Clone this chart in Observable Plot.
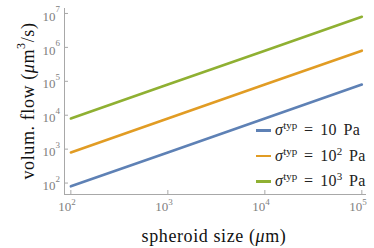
<!DOCTYPE html>
<html><head><meta charset="utf-8">
<script src="https://cdn.jsdelivr.net/npm/d3@7"></script>
<script src="https://cdn.jsdelivr.net/npm/@observablehq/plot@0.6"></script>
<style>
body{margin:0;background:#fff;}
#c{position:relative;width:374px;height:248px;font-family:"Liberation Serif",serif;}
#legend{position:absolute;left:256px;top:117px;font-size:16px;color:#222;letter-spacing:0.3px;word-spacing:2.5px;}
#legend .row{height:25.5px;line-height:25.5px;white-space:nowrap;}
#legend .sw{display:inline-block;width:15px;height:2.6px;vertical-align:middle;margin-right:4px;position:relative;top:-1px;}
#legend sup{font-size:11px;vertical-align:0;position:relative;top:-6px;letter-spacing:0;}
</style></head><body><div id="c"></div>
<script>
const sizes = [100, 1000, 10000, 100000];
const flow10 = [80, 800, 8000, 80000];
const flow100 = [800, 8000, 80000, 800000];
const flow1000 = [8000, 80000, 800000, 8000000];
const seriesNames = ["10 Pa", "10^2 Pa", "10^3 Pa"];
const legendBase = ["10", "10", "10"];
const legendExp = ["", "2", "3"];
const colors = ["#5E81B5", "#E19C24", "#8FB032"];
const xTicks = [100, 1000, 10000, 100000];
const xTickExp = ["2", "3", "4", "5"];
const yTicks = [1e2, 1e3, 1e4, 1e5, 1e6, 1e7];
const yTickExp = ["2", "3", "4", "5", "6", "7"];

const xDomain = [86, 111700];
const yDomain = [46, 14000000];

const data = [];
[flow10, flow100, flow1000].forEach((arr, i) =>
  arr.forEach((v, j) => data.push({s: seriesNames[i], x: sizes[j], y: v})));

const axisGray = "#a8a8a8";
const labelGray = "#808080";

const chart = Plot.plot({
  width: 374, height: 248,
  marginLeft: 64, marginRight: 8, marginTop: 8, marginBottom: 54,
  style: {fontFamily: "Liberation Serif, serif", background: "transparent"},
  x: {type: "log", domain: xDomain, axis: null},
  y: {type: "log", domain: yDomain, axis: null},
  color: {domain: seriesNames, range: colors},
  marks: [
    Plot.ruleY([yDomain[0]], {stroke: axisGray, strokeWidth: 1}),
    Plot.ruleX([xDomain[0]], {stroke: axisGray, strokeWidth: 1}),
    Plot.axisY({ticks: yTicks, tickSize: 4, dx: 4, tickFormat: () => "", stroke: axisGray, label: null}),
    Plot.axisX({ticks: xTicks, tickSize: 4, dy: -4, tickFormat: () => "", stroke: axisGray, label: null}),
    Plot.text(yTicks, {y: d => d, frameAnchor: "left", text: () => "10", textAnchor: "end",
      dx: -9, dy: 3, fontSize: 13, fill: labelGray}),
    Plot.text(yTicks, {y: d => d, frameAnchor: "left", text: (d, i) => yTickExp[i], textAnchor: "start",
      dx: -9, dy: -4, fontSize: 9, fill: labelGray}),
    Plot.text(xTicks, {x: d => d, frameAnchor: "bottom", text: () => "10", textAnchor: "end",
      dx: 0.5, dy: 16, fontSize: 13, fill: labelGray}),
    Plot.text(xTicks, {x: d => d, frameAnchor: "bottom", text: (d, i) => xTickExp[i], textAnchor: "start",
      dx: 0.5, dy: 10, fontSize: 9, fill: labelGray}),
    Plot.line(data, {x: "x", y: "y", z: "s", stroke: "s", strokeWidth: 2.6})
  ]
});

const c = document.getElementById("c");
c.appendChild(chart);

const svg = d3.select(chart);
// y title
const yt = svg.append("text")
  .attr("transform", "translate(28,101) rotate(-90)")
  .attr("text-anchor", "middle")
  .attr("dominant-baseline", "central")
  .attr("font-size", 18).attr("fill", "#111")
  .attr("letter-spacing", 0.6)
  .attr("font-family", "Liberation Serif, serif");
yt.append("tspan").text("volum. flow (");
yt.append("tspan").attr("font-style", "italic").text("μ");
yt.append("tspan").text("m");
yt.append("tspan").attr("font-size", 12).attr("dy", -7).text("3");
yt.append("tspan").attr("dy", 7).text("/s)");
// x title
const xt = svg.append("text")
  .attr("x", 214).attr("y", 242)
  .attr("text-anchor", "middle")
  .attr("font-size", 18).attr("fill", "#111")
  .attr("letter-spacing", 0.6)
  .attr("font-family", "Liberation Serif, serif");
xt.append("tspan").text("spheroid size (");
xt.append("tspan").attr("font-style", "italic").text("μ");
xt.append("tspan").text("m)");

// legend
const lg = document.createElement("div");
lg.id = "legend";
seriesNames.forEach((s, i) => {
  const r = document.createElement("div");
  r.className = "row";
  r.innerHTML = `<span class="sw" style="background:${colors[i]}"></span><i>σ</i><sup>typ</sup> = ${legendBase[i]}${legendExp[i] ? `<sup>${legendExp[i]}</sup>` : ""} Pa`;
  lg.appendChild(r);
});
c.appendChild(lg);
</script></body></html>
